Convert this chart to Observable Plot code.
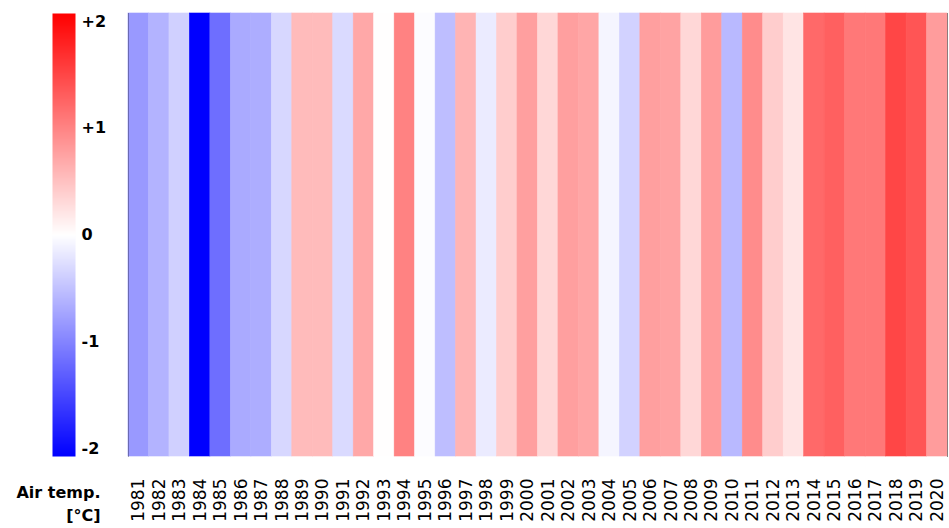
<!DOCTYPE html>
<html>
<head>
<meta charset="utf-8">
<script src="https://cdn.jsdelivr.net/npm/d3@7"></script>
<script src="https://cdn.jsdelivr.net/npm/@observablehq/plot@0.6"></script>
<style>
  body { margin: 0; background: white; }
  #chart { position: relative; width: 949px; height: 528px; }
  #chart > * { position: absolute; left: 0; top: 0; }
</style>
</head>
<body>
<div id="chart"></div>
<script>
const years = d3.range(1981, 2021);
const anomalies = [
  -0.80, -0.60, -0.37, -2.00, -1.14, -0.67, -0.64, -0.31, 0.53, 0.53,
  -0.29, 0.68, 0.01, 0.98, -0.02, -0.51, 0.59, -0.16, 0.39, 0.75,
  0.31, 0.75, 0.70, -0.08, -0.35, 0.75, 0.72, 0.31, 0.78, -0.55,
  0.90, 0.39, 0.21, 1.18, 1.25, 1.06, 1.06, 1.45, 1.33, 0.78
];
const legendTicks = [2, 1, 0, -1, -2];
const legendLabels = ["+2", "+1", "0", "-1", "-2"];
const unitLines = ["Air temp.", "[°C]"];

const data = years.map((y, i) => ({year: y, value: anomalies[i]}));
const colorScale = {type: "linear", domain: [-2, 0, 2], range: ["#0000ff", "#ffffff", "#ff0000"], interpolate: "rgb"};
const font = "'DejaVu Sans', sans-serif";

const main = Plot.plot({
  width: 949,
  height: 528,
  marginLeft: 128,
  marginRight: 2,
  marginTop: 13,
  marginBottom: 72,
  style: {fontFamily: font, background: "transparent"},
  x: {type: "band", domain: years, padding: 0, insetLeft: 0, insetRight: 0, round: false},
  color: colorScale,
  marks: [
    Plot.cell(data, {x: "year", fill: "value", stroke: "value", strokeWidth: 0.6, inset: 0}),
    Plot.frame({anchor: "left", stroke: "#000", strokeOpacity: 0.3}),
    Plot.frame({anchor: "right", stroke: "#000", strokeOpacity: 0.45}),
    Plot.axisX({tickRotate: -90, tickSize: 0, tickPadding: 22, fontSize: 17, label: null, fill: "#000", tickFormat: d => String(d)})
  ]
});

const legend = Plot.plot({
  width: 128,
  height: 528,
  marginLeft: 52,
  marginRight: 53,
  marginTop: 13,
  marginBottom: 72,
  style: {fontFamily: font, background: "transparent", overflow: "visible"},
  x: {domain: [0, 1], axis: null},
  y: {domain: [-2, 2], axis: null},
  color: colorScale,
  marks: [
    Plot.raster({fill: (x, y) => y, x1: 0, x2: 1, y1: -2, y2: 2, width: 1, height: 443, imageRendering: "auto"}),
    Plot.text(legendTicks, {x: 1, y: d => d * 0.964, text: (d, i) => legendLabels[i], textAnchor: "start", dx: 6, fontSize: 16, fontWeight: "bold", fill: "#000"}),
    Plot.text([unitLines[0]], {x: 1, y: -2, dx: 25, dy: 36, textAnchor: "end", fontSize: 16, fontWeight: "bold", fill: "#000"}),
    Plot.text([unitLines[1]], {x: 1, y: -2, dx: 25, dy: 59, textAnchor: "end", fontSize: 16, fontWeight: "bold", fill: "#000"})
  ]
});

const chart = document.getElementById("chart");
chart.appendChild(main);
chart.appendChild(legend);
</script>
</body>
</html>
